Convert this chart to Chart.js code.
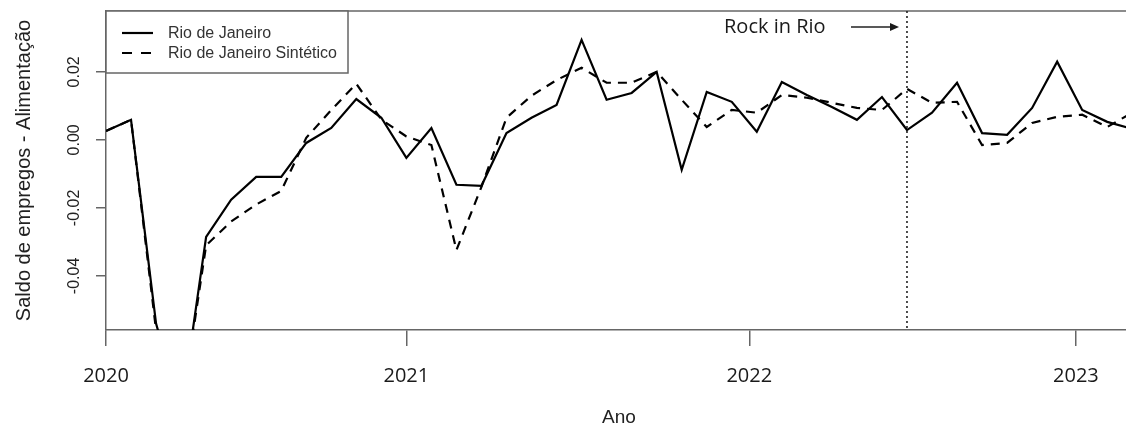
<!DOCTYPE html>
<html lang="pt-BR">
<head>
<meta charset="utf-8">
<title>Saldo de empregos - Alimentação</title>
<script src="https://cdn.jsdelivr.net/npm/chart.js@4/dist/chart.umd.min.js"></script>
<style>
  html, body { margin: 0; padding: 0; background: #fff; }
  #wrap { width: 1126px; height: 427px; overflow: hidden; }
</style>
</head>
<body>
<div id="wrap"><canvas id="grafico" width="1126" height="427"></canvas></div>
<script>
// Série mensal, jan/2020 em diante (índice do mês)
const meses = ['2020-01','2020-02','2020-03','2020-04','2020-05','2020-06','2020-07','2020-08','2020-09','2020-10','2020-11','2020-12',
               '2021-01','2021-02','2021-03','2021-04','2021-05','2021-06','2021-07','2021-08','2021-09','2021-10','2021-11','2021-12',
               '2022-01','2022-02','2022-03','2022-04','2022-05','2022-06','2022-07','2022-08','2022-09','2022-10','2022-11','2022-12',
               '2023-01','2023-02','2023-03','2023-04','2023-05','2023-06'];

const rioJaneiro = [0.0026, 0.0059, -0.054, -0.080, -0.0285, -0.0176, -0.0109, -0.0109, -0.0009, 0.0035, 0.0120, 0.0065,
                    -0.0053, 0.0035, -0.0132, -0.0135, 0.0020, 0.0065, 0.0103, 0.0294, 0.0118, 0.0138, 0.0200, -0.0088,
                    0.0141, 0.0112, 0.0024, 0.0170, 0.0132, 0.0097, 0.0059, 0.0126, 0.0029, 0.0080, 0.0168, 0.0020,
                    0.0015, 0.0094, 0.0230, 0.0088, 0.0053, 0.0032];

const rioSintetico = [0.0026, 0.0059, -0.056, -0.080, -0.0310, -0.0240, -0.0190, -0.0150, 0.0006, 0.0088, 0.0165, 0.0060,
                      0.0010, -0.0015, -0.0324, -0.0138, 0.0065, 0.0130, 0.0176, 0.0212, 0.0168, 0.0168, 0.0200, 0.0118,
                      0.0038, 0.0088, 0.0080, 0.0132, 0.0124, 0.0109, 0.0094, 0.0088, 0.0150, 0.0109, 0.0112, -0.0015,
                      -0.0009, 0.0050, 0.0068, 0.0074, 0.0038, 0.0080];

// Eixos
const anos = ['2020', '2021', '2022', '2023'];
const anosPos = [0, 12, 25.7, 38.75];
const yTicks = [-0.04, -0.02, 0.00, 0.02];
const yTickLabels = ['-0.04', '-0.02', '0.00', '0.02'];
const yMin = -0.0559, yMax = 0.0379;
const xMax = 40.75;

const rockInRio = 32; // set/2022

const toPoints = vals => vals.map((v, i) => ({ x: i, y: v }));

const SANS = '"Liberation Sans", Arial, sans-serif';
const OPEN = '"Open Sans", sans-serif';
const EIXO = '#666';

// Moldura superior, rótulos girados, legenda e marcação do Rock in Rio
const extras = {
    id: 'extras',
    afterDraw(chart) {
        const { ctx, chartArea: a, scales: { x, y } } = chart;
        ctx.save();

        ctx.strokeStyle = EIXO;
        ctx.lineWidth = 1.5;
        ctx.beginPath();
        ctx.moveTo(a.left, a.top);
        ctx.lineTo(a.right, a.top);
        ctx.stroke();

        // rótulos do eixo y, lidos de baixo para cima
        ctx.fillStyle = '#222';
        ctx.font = '16px ' + SANS;
        ctx.textAlign = 'center';
        ctx.textBaseline = 'middle';
        yTicks.forEach((v, k) => {
            ctx.save();
            ctx.translate(75, y.getPixelForValue(v));
            ctx.rotate(-Math.PI / 2);
            ctx.fillText(yTickLabels[k], 0, 0);
            ctx.restore();
        });

        ctx.save();
        ctx.font = '20px ' + SANS;
        ctx.translate(24, (a.top + a.bottom) / 2);
        ctx.rotate(-Math.PI / 2);
        ctx.fillText('Saldo de empregos - Alimentação', 0, 0);
        ctx.restore();

        ctx.font = '19px ' + SANS;
        ctx.fillText('Ano', 619, 418);

        // linha pontilhada do evento
        const xr = x.getPixelForValue(rockInRio);
        ctx.strokeStyle = '#222';
        ctx.lineWidth = 1.6;
        ctx.setLineDash([2, 3]);
        ctx.beginPath();
        ctx.moveTo(xr, a.top);
        ctx.lineTo(xr, a.bottom);
        ctx.stroke();
        ctx.setLineDash([]);

        ctx.fillStyle = '#1a1a1a';
        ctx.font = '20px ' + OPEN;
        ctx.textAlign = 'left';
        ctx.fillText('Rock in Rio', 724, 27);
        ctx.lineWidth = 1.5;
        ctx.beginPath();
        ctx.moveTo(851, 27);
        ctx.lineTo(xr - 12, 27);
        ctx.stroke();
        ctx.beginPath();
        ctx.moveTo(xr - 8, 27);
        ctx.lineTo(xr - 17, 23);
        ctx.lineTo(xr - 17, 31);
        ctx.closePath();
        ctx.fill();

        // legenda
        const lx = a.left, ly = a.top;
        ctx.fillStyle = '#fff';
        ctx.fillRect(lx, ly, 242, 62);
        ctx.strokeStyle = EIXO;
        ctx.lineWidth = 1.5;
        ctx.strokeRect(lx, ly, 242, 62);
        ctx.strokeStyle = '#000';
        ctx.lineWidth = 2.2;
        ctx.beginPath();
        ctx.moveTo(lx + 16, ly + 22);
        ctx.lineTo(lx + 47, ly + 22);
        ctx.stroke();
        ctx.setLineDash([10, 9]);
        ctx.beginPath();
        ctx.moveTo(lx + 16, ly + 42);
        ctx.lineTo(lx + 51, ly + 42);
        ctx.stroke();
        ctx.setLineDash([]);
        ctx.fillStyle = '#333';
        ctx.font = '16px ' + SANS;
        ctx.textBaseline = 'middle';
        ctx.fillText('Rio de Janeiro', lx + 62, ly + 23);
        ctx.fillText('Rio de Janeiro Sintético', lx + 62, ly + 43);

        ctx.restore();
    }
};

new Chart(document.getElementById('grafico'), {
    type: 'line',
    data: {
        labels: meses,
        datasets: [
            {
                label: 'Rio de Janeiro',
                data: toPoints(rioJaneiro),
                borderColor: '#000',
                borderWidth: 2.2,
                pointRadius: 0,
                tension: 0
            },
            {
                label: 'Rio de Janeiro Sintético',
                data: toPoints(rioSintetico),
                borderColor: '#000',
                borderWidth: 2.2,
                borderDash: [9, 7],
                pointRadius: 0,
                tension: 0
            }
        ]
    },
    options: {
        responsive: false,
        animation: false,
        events: [],
        layout: { padding: { top: 11, left: 0, right: 0, bottom: 0 } },
        scales: {
            x: {
                type: 'linear',
                min: 0,
                max: xMax,
                afterFit: s => { s.height = 97; },
                afterBuildTicks: s => { s.ticks = anosPos.map(v => ({ value: v })); },
                ticks: {
                    autoSkip: false,
                    maxRotation: 0,
                    padding: 18,
                    color: '#1a1a1a',
                    font: { family: OPEN, size: 20 },
                    callback: (v, i) => anos[i]
                },
                grid: { drawOnChartArea: false, tickLength: 16, color: EIXO, lineWidth: 1.5 },
                border: { color: EIXO, width: 1.5 }
            },
            y: {
                min: yMin,
                max: yMax,
                afterFit: s => { s.width = 106; },
                afterBuildTicks: s => { s.ticks = yTicks.map(v => ({ value: v })); },
                ticks: { display: false },
                grid: { drawOnChartArea: false, tickLength: 10, color: EIXO, lineWidth: 1.5 },
                border: { color: EIXO, width: 1.5 }
            }
        },
        plugins: {
            legend: { display: false },
            tooltip: { enabled: false }
        }
    },
    plugins: [extras]
});
</script>
</body>
</html>
